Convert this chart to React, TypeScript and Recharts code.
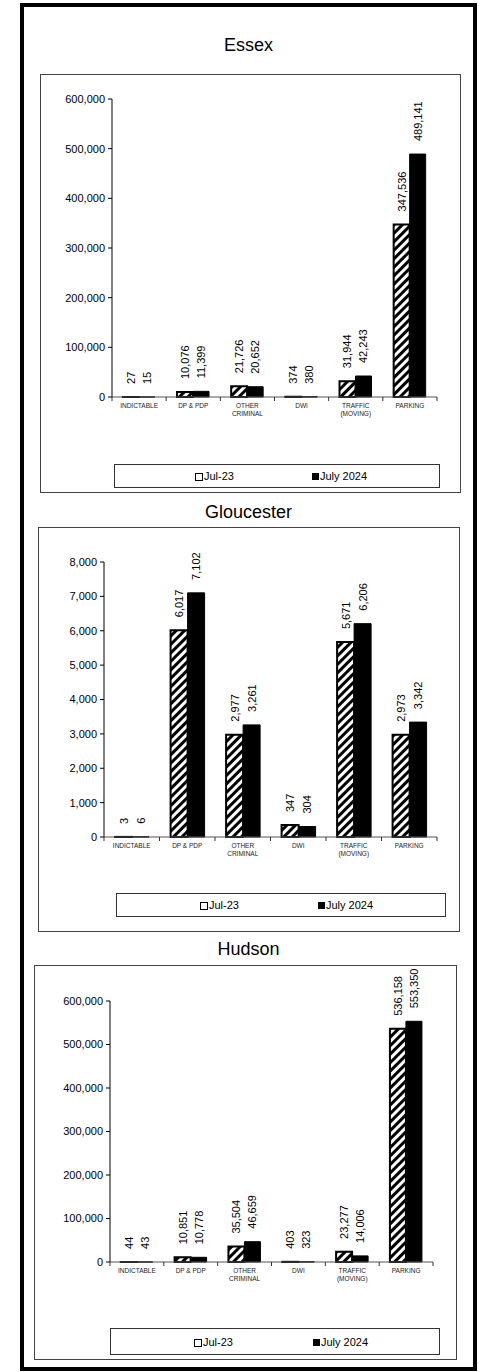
import { BarChart, Bar, XAxis, YAxis, LabelList } from "recharts";

// categorias do eixo X (quebra de linha onde o rótulo tem duas linhas)
const categories = [
  "INDICTABLE",
  "DP & PDP",
  "OTHER\nCRIMINAL",
  "DWI",
  "TRAFFIC\n(MOVING)",
  "PARKING",
];

const seriesNames = ["Jul-23", "July 2024"];

// Essex
const essexJul23 = [27, 10076, 21726, 374, 31944, 347536];
const essexJul24 = [15, 11399, 20652, 380, 42243, 489141];
const essexTicks = [0, 100000, 200000, 300000, 400000, 500000, 600000];

// Gloucester
const gloucesterJul23 = [3, 6017, 2977, 347, 5671, 2973];
const gloucesterJul24 = [6, 7102, 3261, 304, 6206, 3342];
const gloucesterTicks = [0, 1000, 2000, 3000, 4000, 5000, 6000, 7000, 8000];

// Hudson
const hudsonJul23 = [44, 10851, 35504, 403, 23277, 536158];
const hudsonJul24 = [43, 10778, 46659, 323, 14006, 553350];
const hudsonTicks = [0, 100000, 200000, 300000, 400000, 500000, 600000];

const FONT = "'Liberation Sans', Arial, sans-serif";

const fmt = (v: number) => Number(v).toLocaleString("en-US");

// rótulo de valor girado acima da barra
const renderValue = (props: any) => {
  const { x, y, width, value } = props;
  const cx = Number(x) + Number(width) / 2;
  const ty = Number(y) - 13;
  return (
    <text
      x={cx}
      y={ty}
      transform={`rotate(-90 ${cx} ${ty})`}
      textAnchor="start"
      dominantBaseline="central"
      fontSize={11}
      fontFamily={FONT}
      fill="#000"
    >
      {fmt(value)}
    </text>
  );
};

// tick do eixo X: marcas nos limites das categorias + texto em várias linhas
const CategoryTick = (props: any) => {
  const { x, y, payload, index, visibleTicksCount } = props;
  const half = payload && payload.offset ? payload.offset : 0;
  const lines = String(payload.value).split("\n");
  return (
    <g>
      <line x1={x - half} x2={x - half} y1={y} y2={y + 4} stroke="#333" />
      {index === visibleTicksCount - 1 && (
        <line x1={x + half} x2={x + half} y1={y} y2={y + 4} stroke="#333" />
      )}
      <text textAnchor="middle" fontSize={6.5} fontFamily={FONT} fill="#222">
        {lines.map((l, i) => (
          <tspan key={i} x={x} y={y + 10.5 + i * 8}>
            {l}
          </tspan>
        ))}
      </text>
    </g>
  );
};

interface PanelProps {
  title: string;
  titleTop: number;
  jul23: number[];
  jul24: number[];
  ticks: number[];
  box: { left: number; top: number; width: number; height: number };
  plot: { top: number; right: number; yWidth: number; height: number };
  legend: { left: number; top: number; width: number; height: number; a: number; b: number };
}

function Panel({ title, titleTop, jul23, jul24, ticks, box, plot, legend }: PanelProps) {
  const data = categories.map((name, i) => ({ name, jul23: jul23[i], jul24: jul24[i] }));
  const chartWidth = box.width - 2;
  const chartHeight = plot.top + plot.height + 40;
  return (
    <>
      <div
        style={{
          position: "absolute",
          left: 20,
          width: 457,
          top: titleTop,
          textAlign: "center",
          fontSize: 18,
          lineHeight: "22px",
          fontFamily: FONT,
          color: "#000",
        }}
      >
        {title}
      </div>
      <div
        style={{
          position: "absolute",
          left: box.left,
          top: box.top,
          width: box.width,
          height: box.height,
          border: "1px solid #444",
          boxSizing: "border-box",
          background: "#fff",
        }}
      >
        <BarChart
          width={chartWidth}
          height={chartHeight}
          data={data}
          margin={{ top: plot.top, right: plot.right, left: 0, bottom: 0 }}
          barCategoryGap="20%"
          barGap={0}
        >
          <XAxis
            dataKey="name"
            interval={0}
            tickLine={false}
            tickSize={0}
            tickMargin={0}
            height={40}
            axisLine={{ stroke: "#555" }}
            tick={<CategoryTick />}
          />
          <YAxis
            width={plot.yWidth}
            domain={[ticks[0], ticks[ticks.length - 1]]}
            ticks={ticks}
            interval={0}
            tickSize={4}
            tickMargin={3}
            tickFormatter={fmt}
            axisLine={{ stroke: "#000" }}
            tickLine={{ stroke: "#000" }}
            tick={{ fontSize: 11, fill: "#000", fontFamily: FONT }}
          />
          <Bar
            dataKey="jul23"
            name={seriesNames[0]}
            fill="url(#hatch)"
            stroke="#000"
            strokeWidth={2}
            isAnimationActive={false}
          >
            <LabelList dataKey="jul23" content={renderValue} />
          </Bar>
          <Bar
            dataKey="jul24"
            name={seriesNames[1]}
            fill="#000"
            stroke="#000"
            strokeWidth={1}
            isAnimationActive={false}
          >
            <LabelList dataKey="jul24" content={renderValue} />
          </Bar>
        </BarChart>
        <div
          style={{
            position: "absolute",
            left: legend.left,
            top: legend.top,
            width: legend.width,
            height: legend.height,
            border: "1px solid #333",
            boxSizing: "border-box",
            fontFamily: FONT,
            fontSize: 11,
            color: "#000",
          }}
        >
          <div
            style={{
              position: "absolute",
              left: legend.a,
              top: legend.height / 2 - 4,
              width: 6,
              height: 6,
              border: "1.5px solid #000",
              background: "#fff",
            }}
          />
          <div style={{ position: "absolute", left: legend.a + 9, top: legend.height / 2 - 8, lineHeight: "14px" }}>
            {seriesNames[0]}
          </div>
          <div
            style={{
              position: "absolute",
              left: legend.b,
              top: legend.height / 2 - 4,
              width: 7,
              height: 7,
              background: "#000",
            }}
          />
          <div style={{ position: "absolute", left: legend.b + 8, top: legend.height / 2 - 8, lineHeight: "14px" }}>
            {seriesNames[1]}
          </div>
        </div>
      </div>
    </>
  );
}

export default function App() {
  return (
    <div style={{ position: "absolute", left: 0, top: 0, width: 479, height: 1372, background: "#fff" }}>
      <svg width={0} height={0} style={{ position: "absolute" }}>
        <defs>
          <pattern id="hatch" patternUnits="userSpaceOnUse" width={6} height={6} patternTransform="rotate(45)">
            <rect x={0} y={0} width={6} height={6} fill="#fff" />
            <rect x={0} y={0} width={3} height={6} fill="#000" />
          </pattern>
        </defs>
      </svg>
      <div
        style={{
          position: "absolute",
          left: 20,
          top: 3,
          width: 457,
          height: 1368,
          border: "4px solid #000",
          boxSizing: "border-box",
        }}
      />
      <Panel
        title="Essex"
        titleTop={34}
        jul23={essexJul23}
        jul24={essexJul24}
        ticks={essexTicks}
        box={{ left: 40, top: 74, width: 421, height: 419 }}
        plot={{ top: 24, right: 23, yWidth: 71, height: 298 }}
        legend={{ left: 73, top: 389, width: 326, height: 24, a: 80, b: 197 }}
      />
      <Panel
        title="Gloucester"
        titleTop={501}
        jul23={gloucesterJul23}
        jul24={gloucesterJul24}
        ticks={gloucesterTicks}
        box={{ left: 38, top: 527, width: 422, height: 405 }}
        plot={{ top: 34, right: 22, yWidth: 65, height: 275 }}
        legend={{ left: 77, top: 365, width: 330, height: 24, a: 83, b: 201 }}
      />
      <Panel
        title="Hudson"
        titleTop={938}
        jul23={hudsonJul23}
        jul24={hudsonJul24}
        ticks={hudsonTicks}
        box={{ left: 34, top: 965, width: 423, height: 395 }}
        plot={{ top: 35, right: 23, yWidth: 75, height: 261 }}
        legend={{ left: 75, top: 362, width: 330, height: 27, a: 83, b: 202 }}
      />
    </div>
  );
}
